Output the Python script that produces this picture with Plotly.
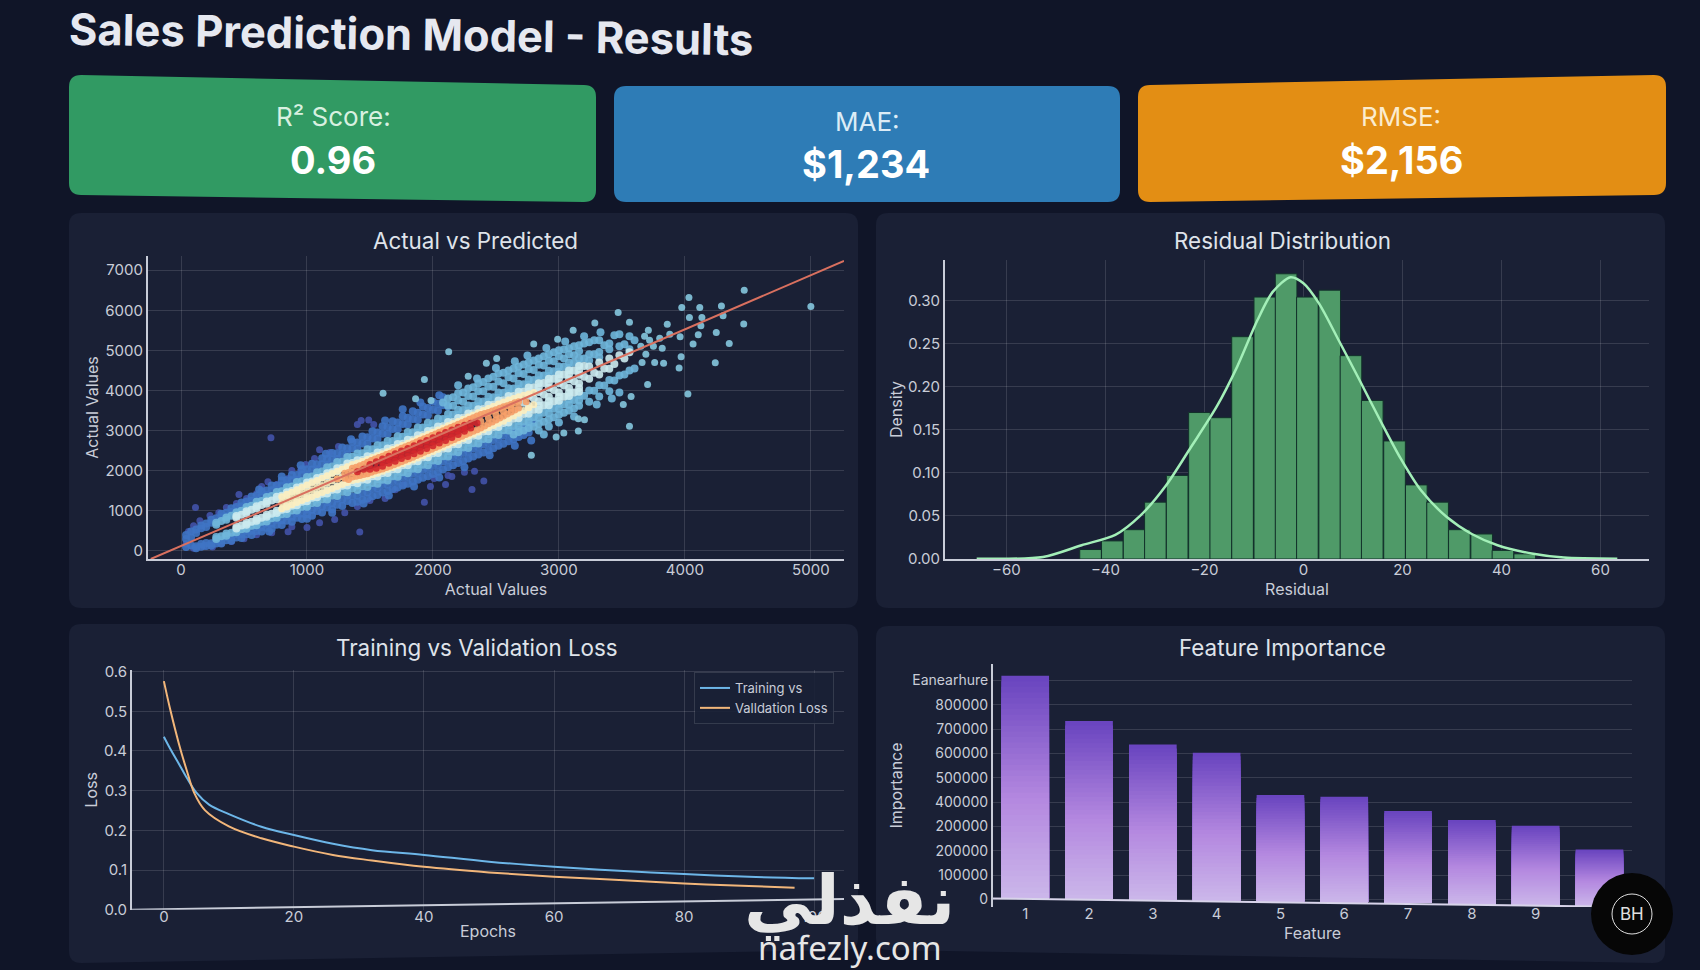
import plotly.graph_objects as go

W, H = 1700, 970

# --- scatter. Each colour band is a list of (x, [y, y, ...]) columns, outer band first
line_x = [-240, 5263]
line_y = [-207, 7231]
cols_indigo = [(40,[170]),(60,[480]),(100,[620,60]),(115,[1078]),(150,[750]),(180,[110]),(230,[880]),(250,[90]),(300,[950]),(320,[180]),
    (360,[1080]),(400,[230]),(440,[1180]),(460,[1400]),(500,[300]),(520,[1300]),(600,[1420,400]),(640,[1600]),(690,[1720]),(714,[2820]),
    (720,[450]),(760,[1650]),(850,[1800,470]),(880,[2000,600]),(950,[2000]),(990,[2150]),(1000,[580]),(1060,[2300]),(1100,[2520,700]),
    (1180,[2450]),(1220,[780]),(1250,[2600]),(1300,[950]),(1400,[3150,1100]),(1419,[464]),(1430,[3250]),(1490,[3260]),(1500,[1250]),
    (1530,[3150]),(1620,[1300]),(1700,[1520]),(1770,[1650]),(1932,[1210]),(1980,[1600]),(2010,[1800]),(2100,[1650]),(2120,[1880]),
    (2150,[1850]),(2250,[1960]),(2310,[1526]),(2330,[1980]),(2404,[1741])]
cols_blue = [(40,[390,290,90]),(120,[530,440,110,60]),(200,[680,590,190,120]),(280,[810,720,250,180]),(360,[950,860,340,260]),
    (440,[1090,1000,420,330]),(520,[1230,1130,500,410]),(600,[1370,1260,590,490]),(680,[1500,1390,680,570]),(760,[1630,1520,770,650]),
    (840,[1760,1640,860,750]),(920,[1890,1780,940,820]),(1000,[2030,1900,1030,910]),(1080,[2160,2030,1120,990]),(1160,[2290,2150,1210,1080]),
    (1240,[2430,2290,1300,1150]),(1320,[2560,2410,1380,1240]),(1400,[2700,2540,1370,1220]),(1480,[2830,2670,1460,1300]),
    (1560,[2950,2790,1560,1390]),(1640,[3080,2910,1650,1490]),(1720,[3200,3030,1750,1580]),(1800,[3320,3150,1850,1670]),
    (1880,[3440,3260,1950,1770]),(1960,[3560,3380,2040,1860]),(2040,[3670,3490,2150,1970]),(2120,[3600,2260,2080]),(2200,[2370,2190]),
    (2280,[2475,2300]),(2360,[2580,2400]),(2440,[2690,2510]),(2520,[2800,2620]),(2600,[2910,2730]),(2680,[3020,2840]),(2760,[3130,2950]),
    (80,[480,330,130]),(160,[630,560,170,100]),(240,[770,700,185,130]),(320,[920,835,260,180]),(400,[1060,970,340,250]),(480,[1205,1110,420,320]),
    (560,[1350,1245,500,395]),(640,[1485,1375,590,480]),(720,[1630,1510,670,550]),(800,[1755,1630,760,640]),(880,[1890,1760,850,720]),
    (960,[2035,1895,930,790]),(1040,[2170,2025,1020,875]),(1120,[2305,2155,1105,955]),(1200,[2440,2285,1190,1035]),(1280,[2575,2410,1280,1115]),
    (1360,[2720,2550,1360,1190]),(1440,[2850,2675,1445,1270]),(1520,[2980,2800,1540,1360]),(1600,[3105,2920,1640,1450]),(1680,[3230,3040,1725,1540]),
    (1760,[3355,3165,1820,1630]),(1840,[3480,3285,1920,1725]),(1920,[3600,3400,2015,1820]),(2000,[3720,3520,2115,1915]),(2080,[3830,3630,2225,2025]),
    (2160,[2330,2130]),(2240,[2440,2240]),(2320,[2550,2350]),(2400,[2650,2450]),(2480,[2760,2560]),(2560,[2870,2670]),(2640,[2980,2780]),(2720,[3090,2890]),(2800,[3200]),
    (1350,[2780]),(1150,[2420]),(1620,[3250]),(1760,[3530]),(1900,[3700]),(2050,[3880]),(950,[2130]),(800,[1850]),(620,[1530]),(1450,[1180]),(1650,[1380]),
    (1850,[1600]),(2050,[1830]),(2250,[2080]),(2450,[2380]),(2650,[2620]),(2780,[2750]),(1200,[950]),(1000,[800]),(700,[480])]
cols_sky = [(280,[700,650,340,290]),(360,[830,775,430,375]),(440,[960,900,520,460]),(520,[1090,1020,615,550]),(600,[1220,1150,705,635]),
    (680,[1340,1265,800,730]),(760,[1465,1390,900,820]),(840,[1585,1500,1000,915]),(920,[1715,1625,1090,1005]),(1000,[1840,1750,1185,1095]),
    (1080,[1960,1865,1285,1190]),(1160,[2085,1990,1380,1280]),(1240,[2215,2110,1470,1365]),(1320,[2340,2230,1565,1460]),
    (1400,[2425,2315,1625,1515]),(1480,[2535,2420,1710,1590]),(1560,[2630,2515,1785,1670]),(1640,[2740,2615,1870,1755]),
    (1720,[2855,2730,1970,1845]),(1800,[2965,2840,2060,1935]),(1880,[3075,2945,2165,2035]),(1960,[3195,3065,2265,2135]),
    (2040,[3300,3170,2370,2240]),(2120,[3800,3620,3410,3280,2480,2350]),(2200,[3930,3750,3517,3387,2587,2457]),
    (2280,[4050,3860,3625,3495,2695,2565]),(2360,[4170,3980,3733,3603,2803,2673]),(2440,[4300,4100,3841,3711,2911,2781]),
    (2520,[4420,4220,3949,3819,3019,2889]),(2600,[4500,4330,4057,3927,3127,2997]),(2680,[4600,4430,4165,4035,3235,3105,2960]),
    (2760,[4700,4530,4273,4143,3343,3213,3060]),(2840,[4800,4640,4381,4251,3451,3321,3170,3000]),(2920,[4900,4740,4489,4359,3559,3429,3280,3100]),
    (3000,[5000,4850,4597,4467,3667,3537,3390]),(3080,[5050,4900,4700,4560,3775,3645,3500]),(3160,[5130,4980,4800,4650,3880,3750,3620]),
    (3240,[5200,4900,4750,4000,3720]),(3320,[5250,4960,4830,4130,3850]),(3400,[5170,5030,4260,3980]),(3480,[5400,5100,4370]),(3560,[5350,5030,4500]),
    (320,[740,360]),(400,[870,450]),(480,[995,535]),(560,[1120,625]),(640,[1240,720]),(720,[1365,810]),(800,[1485,910]),(880,[1605,1005]),(960,[1735,1095]),
    (1040,[1855,1190]),(1120,[1975,1285]),(1200,[2100,1375]),(1280,[2220,1470]),(1360,[2345,1555]),(1440,[2430,1610]),(1520,[2530,1690]),(1600,[2630,1770]),
    (1680,[2740,1860]),(1760,[2845,1955]),(1840,[2955,2045]),(1920,[3075,2145]),(2000,[3180,2250]),(2080,[3290,3700,2360]),(2160,[3400,3830,3620,2470]),
    (2240,[3510,3950,3720,2575]),(2320,[3620,4080,3850,2680]),(2400,[3725,4210,3980,2790]),(2480,[3830,4340,4090,2900]),(2560,[3940,4440,4180,3005]),
    (2640,[4050,4550,4300,3115,2900]),(2720,[4155,4650,4410,3220,3000]),(2800,[4260,4750,4510,3330,3100]),(2880,[4370,4850,4620,3440,3220]),
    (2960,[4480,4950,4730,3545,3330]),(3040,[4590,5020,4800,3650,3440]),(3120,[4690,5100,4880,3760,3550]),(3200,[4800,5170,3870]),
    (3280,[4900,5250,3990]),(3360,[5130,4120]),(3440,[5380,4250]),(3520,[5150,4400]),(3600,[5250,4550]),
    (2200,[4130]),(2350,[4300]),(2500,[4560]),(2650,[4730]),(2750,[4870]),(2900,[5060]),(3050,[5220]),(3200,[5350]),(3330,[5450]),(2880,[2900]),(3000,[3200]),
    (3120,[3350]),(3300,[3650]),(3420,[3800]),(3480,[3950])]
cols_sparse = [(1604,[3930]),(1862,[3790]),(1932,[4270]),(1985,[3748]),(2125,[4967]),(2280,[4353]),(2424,[4677]),(2506,[4800]),(2781,[2380]),
    (2800,[5157]),(2978,[2836]),(2990,[5280]),(3039,[2935]),(3113,[5505]),(3154,[3292,2985]),(3203,[3267]),(3285,[5680]),(3470,[5945]),
    (3511,[3648]),(3560,[3109,5700]),(3573,[3847]),(3650,[5100]),(3660,[4700]),(3680,[5350]),(3690,[4900]),(3704,[4146]),(3710,[5500]),
    (3720,[5250]),(3750,[5100]),(3760,[4700]),(3800,[5300]),(3820,[5050]),(3831,[4677]),(3860,[5650]),(3880,[5400]),(3954,[4560]),
    (3962,[5340]),(3970,[4842]),(3975,[6070]),(4024,[3914]),(4032,[6318]),(4036,[5820]),(4065,[5158]),(4106,[5390]),(4118,[6070]),
    (4127,[5614]),(4135,[5820]),(4241,[4693]),(4249,[5448]),(4290,[6110]),(4303,[5862]),(4352,[5174]),(4467,[5655]),(4471,[6500]),(5000,[6095])]
cols_pale = [(440,[865,820,600,555]),(520,[985,935,700,650]),(600,[1110,1055,800,745]),(680,[1225,1170,900,845]),(760,[1345,1285,1000,940]),
    (840,[1460,1395,1105,1040]),(920,[1580,1515,1205,1135]),(1000,[1700,1630,1305,1235]),(1080,[1815,1745,1405,1335]),(1160,[1935,1860,1510,1430]),
    (1240,[2055,1975,1605,1525]),(1320,[2175,2090,1710,1625]),(1400,[2255,2170,1770,1685]),(1480,[2360,2270,1860,1770]),(1560,[2450,2360,1940,1850]),
    (1640,[2550,2460,2030,1940]),(1720,[2665,2570,2130,2035]),(1800,[2770,2675,2225,2130]),(1880,[2880,2780,2330,2230]),(1960,[2990,2890,2430,2330]),
    (2040,[3100,3000,2540,2440]),(2120,[3210,3110,2650,2550]),(2200,[3315,3215,2755,2655]),(2280,[3425,3325,2865,2765]),(2360,[3530,3430,2970,2870]),
    (2440,[3640,3540,3080,2980]),(2520,[3750,3650,3190,3090]),(2600,[3860,3760,3300,3200]),(2680,[3965,3865,3405,3305,3500,3750]),
    (2760,[4075,3975,3515,3415,3610,3860]),(2840,[4180,4080,3620,3520,3730,3960]),(2920,[4290,4190,3730,3630,3840,4070]),
    (3000,[4400,4300,3840,3740,3950,4180]),(3080,[4500,4400,3950,3860,4060,4280]),(3160,[4610,4500,4060,3970,4170,4390]),
    (3240,[4600,4290]),(3320,[4700,4400]),(3400,[4800,4540]),(3480,[4880]),(3560,[4950]),
    (480,[900,630]),(560,[1020,725]),(640,[1140,825]),(720,[1255,920]),(800,[1370,1025]),(880,[1490,1120]),(960,[1605,1220]),(1040,[1725,1320]),(1120,[1840,1420]),
    (1200,[1955,1520]),(1280,[2070,1620]),(1360,[2190,1710]),(1440,[2265,1775]),(1520,[2360,1860]),(1600,[2460,1940]),(1680,[2565,2035]),(1760,[2670,2130]),
    (1840,[2770,2230]),(1920,[2890,2330]),(2000,[3000,2435]),(2080,[3105,2545]),(2160,[3215,2655]),(2240,[3320,2760]),(2320,[3430,2870]),(2400,[3535,2975]),
    (2480,[3645,3085]),(2560,[3755,3190]),(2640,[3860,3300]),(2720,[3970,3410,3690]),(2800,[4075,3520,3800]),(2880,[4185,3630,3900]),(2960,[4290,3730,4010]),
    (3040,[4400,3840,4120]),(3120,[4500,3950,4230]),(3200,[4610,4340]),(3280,[4440]),(3360,[4550]),(3440,[4660]),(3520,[4800])]
cols_cream = [(800,[1345,1197,1050]),(880,[1460,1305,1150]),(960,[1580,1413,1250]),(1040,[1695,1521,1350]),(1120,[1810,1629,1450]),(1200,[1925,1737,1550]),
    (1280,[2040,1845,1650]),(1360,[2150,1950,1750]),(1440,[2230,1810]),(1520,[2325,1895]),(1600,[2420,1980]),(1680,[2525,2075]),(1760,[2630,2170]),
    (1840,[2735,2265]),(1920,[2850,2370]),(2000,[2957,2477]),(2080,[3065,2585]),(2160,[3173,2693]),(2240,[3281,2801]),(2320,[3389,2909]),(2400,[3497,3017]),
    (2480,[3605,3125]),(2560,[3713,3233]),(2640,[3800,3360]),(2720,[3880,3500]),(2800,[3950,3640]),
    (840,[1410,1251,1090]),(920,[1520,1359,1200]),(1000,[1640,1467,1300]),(1080,[1750,1575,1400]),(1160,[1870,1683,1500]),(1240,[1985,1791,1600]),(1320,[2095,1700]),
    (1400,[2190,1780]),(1480,[2275,1850]),(1560,[2370,1935]),(1640,[2470,2030]),(1720,[2575,2125]),(1800,[2680,2220]),(1880,[2795,2315]),(1960,[2905,2425]),
    (2040,[3010,2530]),(2120,[3120,2640]),(2200,[3225,2745]),(2280,[3335,2855]),(2360,[3445,2965]),(2440,[3550,3070]),(2520,[3660,3180]),(2600,[3760,3300]),
    (2680,[3840,3430]),(2760,[3910,3570])]
cols_orange = [(1240,[1791]),(1300,[1930,1810]),(1360,[2060,1840]),(1420,[2120,1880]),(1480,[2210,1920]),(1540,[2290,1990]),(1600,[2360,2040]),
    (1660,[2435,2105]),(1720,[2515,2185]),(1780,[2595,2255]),(1840,[2670,2330]),(1900,[2755,2415]),(1960,[2833,2493]),(2020,[2914,2574]),
    (2080,[2995,2655]),(2140,[3076,2736]),(2200,[3157,2817]),(2260,[3238,2898]),(2320,[3319,2979]),(2380,[3400,3230,3060]),(2440,[3450,3311,3170]),
    (2500,[3520,3392,3260]),(2560,[3590,3473,3360]),(2620,[3650,3554,3460]),(2680,[3720,3560]),(2740,[3716]),
    (1330,[1950,1780]),(1390,[2080,1860]),(1450,[2160,1900]),(1510,[2250,1955]),(1570,[2325,2015]),(1630,[2400,2075]),(1690,[2475,2145]),(1750,[2555,2220]),
    (1810,[2630,2295]),(1870,[2715,2375]),(1930,[2795,2455]),(1990,[2875,2535]),(2050,[2955,2615]),(2110,[3035,2695]),(2170,[3115,2775]),(2230,[3195,2855]),
    (2290,[3280,2940]),(2350,[3360,3020]),(2410,[3425,3115]),(2470,[3485,3215]),(2530,[3555,3310]),(2590,[3620,3410]),(2650,[3690,3510])]
cols_red = [(1400,[1970]),(1450,[2035]),(1500,[2150,2030]),(1550,[2220,2060]),(1600,[2290,2200,2110]),(1650,[2360,2270,2180]),(1700,[2420,2325,2230]),
    (1750,[2490,2395,2300]),(1800,[2550,2450,2350]),(1850,[2620,2520,2420]),(1900,[2685,2585,2485]),(1950,[2750,2650,2550]),(2000,[2817,2717,2617]),
    (2050,[2885,2785,2685]),(2100,[2950,2852,2750]),(2150,[3015,2920,2825]),(2200,[3080,2987,2900]),(2250,[3130,3055,2980]),(2300,[3180,3065]),(2350,[3190])]

# --- residuals
hist_x = [-43, -38.6, -34.2, -29.9, -25.5, -21, -16.7, -12.3, -7.8, -3.5, 0.8, 5.3, 9.6, 13.9, 18.4, 22.8, 27.1, 31.5, 36, 40.3, 44.7]
hist_y = [.011, .021, .034, .066, .097, .170, .164, .258, .304, .331, .304, .312, .236, .184, .137, .086, .066, .034, .029, .010, .006]
kde_x = [-66, -52.6, -44.8, -38, -33, -27.8, -22.7, -17.5, -13.4, -9.3, -6.2, -2.6, 0, 3.1, 7.2, 11.3, 15.5, 19.6, 23.7, 28.9, 34, 39.2, 46.4, 52.6, 63.4]
kde_y = [.0004, .0024, .016, .028, .05, .085, .13, .177, .223, .277, .31, .327, .32, .297, .253, .208, .161, .117, .08, .049, .029, .016, .006, .0016, .0004]

# --- loss curves
train_x = [0, 1, 2.3, 3.5, 5, 7, 10, 15, 20, 26, 32, 40, 50, 60, 70, 80, 90, 100]
train_y = [.436, .405, .368, .333, .295, .264, .241, .209, .188, .166, .15, .138, .121, .108, .098, .09, .083, .079]
val_x = [0, 1, 2.3, 3.5, 4.7, 6.3, 10, 15, 20, 26, 32, 40, 50, 60, 70, 80, 90, 97]
val_y = [.576, .503, .419, .352, .293, .251, .21, .18, .159, .138, .124, .108, .094, .083, .075, .066, .060, .055]
loss_base_x = [-4.9, 104.6]
loss_base_y = [0, .027]

# --- feature importance
features = [1, 2, 3, 4, 5, 6, 7, 8, 9, 10]
feature_top = [919000, 733000, 636000, 603000, 429000, 422000, 363000, 326000, 303000, 205000]
feature_base = [4000, 1400, 0, -3000, -7000, -11000, -15000, -21000, -25000, -30000]
feature_axis_x = [.495, 10.51]
feature_axis_y = [4000, -31000]
feature_ticks = [0, 100000, 200000, 300000, 400000, 500000, 600000, 700000, 800000, 900000]
feature_ticktext = ["0", "100000", "200000", "200000", "400000", "500000", "600000", "700000", "800000", "Eanearhure"]
bar_stops = [(0, "#6a45c0"), (.55, "#b488e0"), (1, "#cbb6ea")]

BG = "#101528"
PANEL = "#1a2035"
TEXT = "#c9cdd8"
FONT = "Inter"


def px(x):
    return x / W


def py(y):
    return 1 - y / H


def box_path(xl, xr, tl, tr, br, bl, r=10):
    # rounded box, left and right edges straight, top and bottom can lean
    p = [f"M {px(xl)} {py(tl + r)}",
         f"Q {px(xl)} {py(tl)} {px(xl + r)} {py(tl)}",
         f"L {px(xr - r)} {py(tr)}",
         f"Q {px(xr)} {py(tr)} {px(xr)} {py(tr + r)}",
         f"L {px(xr)} {py(br - r)}",
         f"Q {px(xr)} {py(br)} {px(xr - r)} {py(br)}",
         f"L {px(xl + r)} {py(bl)}",
         f"Q {px(xl)} {py(bl)} {px(xl)} {py(bl - r)} Z"]
    return " ".join(p)


def mix(c1, c2, t):
    a = [int(c1[i:i + 2], 16) for i in (1, 3, 5)]
    b = [int(c2[i:i + 2], 16) for i in (1, 3, 5)]
    return "rgb(%d,%d,%d)" % tuple(a[i] + (b[i] - a[i]) * t for i in range(3))


def gradient(t):
    for (t0, c0), (t1, c1) in zip(bar_stops, bar_stops[1:]):
        if t <= t1:
            return mix(c0, c1, (t - t0) / (t1 - t0))
    return bar_stops[-1][1]


def axis_style(title, domain, rng, standoff, tick_size=15, **kw):
    d = dict(domain=domain, range=rng, automargin=False,
             title=dict(text=title, font=dict(size=16, color=TEXT, family=FONT), standoff=standoff),
             tickfont=dict(size=tick_size, color=TEXT, family=FONT), showgrid=True, gridcolor="rgba(255,255,255,0.13)", gridwidth=1,
             zeroline=False, showline=True, linecolor="#c8ccd8", linewidth=2, ticks="")
    d.update(kw)
    return d


fig = go.Figure()

bands = [(cols_indigo, "#4352a8", 7), (cols_blue, "#3f74c4", 8), (cols_sky, "#6fb6da", 8), (cols_sparse, "#85c6de", 7), (cols_pale, "#cbeaee", 8),
         (cols_cream, "#fdeebf", 7), (cols_orange, "#f6a069", 7), (cols_red, "#d3272c", 7)]
for cols, color, size in bands:
    xs = [c[0] for c in cols for _ in c[1]]
    ys = [y for c in cols for y in c[1]]
    fig.add_trace(go.Scatter(x=xs, y=ys, mode="markers", xaxis="x", yaxis="y", showlegend=False,
                             marker=dict(color=color, size=size, opacity=0.9, line=dict(width=0))))
fig.add_trace(go.Scatter(x=line_x, y=line_y, mode="lines", xaxis="x", yaxis="y", showlegend=False, line=dict(color="#d9705f", width=2)))

fig.add_trace(go.Bar(x=hist_x, y=hist_y, width=4.37, xaxis="x2", yaxis="y2", showlegend=False,
                     marker=dict(color="#4f9a68", line=dict(color="#12302a", width=1))))
fig.add_trace(go.Scatter(x=kde_x, y=kde_y, mode="lines", line=dict(color="#a3efb8", width=2.5, shape="spline", smoothing=0.8),
                         xaxis="x2", yaxis="y2", showlegend=False))

fig.add_trace(go.Scatter(x=train_x, y=train_y, mode="lines", name="Training vs", line=dict(color="#6db6e8", width=2, shape="spline"),
                         xaxis="x3", yaxis="y3"))
fig.add_trace(go.Scatter(x=val_x, y=val_y, mode="lines", name="Valldation Loss", line=dict(color="#f2b67a", width=2, shape="spline"),
                         xaxis="x3", yaxis="y3"))
fig.add_trace(go.Scatter(x=loss_base_x, y=loss_base_y, mode="lines", line=dict(color="#c8ccd8", width=2), xaxis="x3", yaxis="y3",
                         showlegend=False))

# plotly bars have no gradient fill, so each bar is overdrawn from full height down with lighter and lighter colours
n_slices = 40
heights = [t - b for t, b in zip(feature_top, feature_base)]
for k in range(n_slices):
    fig.add_trace(go.Bar(x=features, y=[h * (n_slices - k) / n_slices for h in heights], base=feature_base,
                         width=0.747, xaxis="x4", yaxis="y4", showlegend=False,
                         marker=dict(color=gradient(k / (n_slices - 1)), line=dict(width=0))))
fig.add_trace(go.Scatter(x=feature_axis_x, y=feature_axis_y, mode="lines", line=dict(color="#d8d4ea", width=2), xaxis="x4", yaxis="y4",
                         showlegend=False))

fig.update_layout(
    width=W, height=H, margin=dict(l=0, r=0, t=0, b=0), paper_bgcolor=BG, plot_bgcolor="rgba(0,0,0,0)", barmode="overlay",
    font=dict(family=FONT, color=TEXT),
    xaxis=axis_style("Actual Values", [px(148), px(844)], [-262, 5263], 6, anchor="y", ticklabelstandoff=-4, tickvals=[0, 1000, 2000, 3000, 4000, 5000]),
    yaxis=axis_style("Actual Values", [py(559), py(256)], [-207, 7355], 2, anchor="x", tickvals=[0, 1000, 2000, 3000, 4000, 5000, 6000, 7000]),
    xaxis2=axis_style("Residual", [px(945), px(1649)], [-72.4, 69.8], 6, anchor="y2", ticklabelstandoff=-4, tickvals=[-60, -40, -20, 0, 20, 40, 60]),
    yaxis2=axis_style("Density", [py(559), py(260)], [0, .347], 1, anchor="x2", tickvals=[0, .05, .1, .15, .2, .25, .3], tickformat=".2f"),
    xaxis3=axis_style("Epochs", [px(132), px(844)], [-4.9, 104.6], 1, anchor="y3", ticklabelstandoff=-4, tickvals=[0, 20, 40, 60, 80, 100], showline=False),
    yaxis3=axis_style("Loss", [py(909.7), py(670)], [0, .604], 2, anchor="x3", tickvals=[0, .1, .2, .3, .4, .5, .6], tickformat=".1f"),
    xaxis4=axis_style("Feature", [px(993), px(1632)], [.495, 10.51], 1, anchor="y4", ticklabelstandoff=-4, tickvals=features, showgrid=False, showline=False),
    yaxis4=axis_style("Importance", [py(907), py(664)], [-31000, 967000], 6, tick_size=14, anchor="x4", tickvals=feature_ticks, ticktext=feature_ticktext),
    legend=dict(x=px(694), y=py(672), xanchor="left", yanchor="top", bgcolor="rgba(26,32,53,0.9)", bordercolor="rgba(255,255,255,0.12)",
                borderwidth=1, font=dict(size=13, color=TEXT, family=FONT)),
)

# panels and KPI cards
boxes = [(69, 858, 213, 213, 608, 608, PANEL, 12), (876, 1665, 213, 213, 608, 608, PANEL, 12),
         (69, 858, 624, 624, 950, 963, PANEL, 12), (876, 1665, 626, 626, 963, 950, PANEL, 12),
         (69, 596, 75, 85, 202, 195, "#319a63", 12), (614, 1120, 86, 86, 202, 202, "#2e7cb6", 12),
         (1138, 1666, 85, 75, 195, 202, "#e38e14", 12)]
for xl, xr, tl, tr, br, bl, color, r in boxes:
    fig.add_shape(type="path", path=box_path(xl, xr, tl, tr, br, bl, r), xref="paper", yref="paper", layer="below",
                  fillcolor=color, line=dict(width=0))


def label(text, x, y, size, color="#dfe3ea", bold=False, family=FONT, angle=0):
    fig.add_annotation(text=f"<b>{text}</b>" if bold else text, x=px(x), y=py(y), xref="paper", yref="paper", showarrow=False,
                       xanchor="center", yanchor="middle", textangle=angle, font=dict(size=size, color=color, family=family))


label("Sales Prediction Model - Results", 411, 34, 43.5, color="#e6e8f0", bold=True, angle=0.9)
label("R² Score:", 333, 116, 26, color="#d8f0e0")
label("0.96", 333, 160, 38, color="#ffffff", bold=True)
label("MAE:", 867, 121, 26, color="#dcecf6")
label("$1,234", 866, 164, 38, color="#ffffff", bold=True)
label("RMSE:", 1401, 116, 26, color="#fbeccf")
label("$2,156", 1401, 160, 38, color="#ffffff", bold=True)
label("Actual vs Predicted", 475, 240, 22.4)
label("Residual Distribution", 1282, 240, 22.4)
label("Training vs Validation Loss", 477, 647, 22.4)
label("Feature Importance", 1282, 647, 22.4)

# watermark and round logo on top of the charts
label("نفذلي", 849, 900, 69, color="#e6e6e6", bold=True, family="DejaVu Sans")
label("nafezly.com", 850, 947, 33, color="#e6e6e6", family="Noto Sans")
fig.add_shape(type="circle", x0=px(1591), x1=px(1673), y0=py(955), y1=py(873), xref="paper", yref="paper", layer="above",
              fillcolor="#060606", line=dict(width=0))
fig.add_shape(type="circle", x0=px(1612), x1=px(1652), y0=py(934), y1=py(894), xref="paper", yref="paper", layer="above",
              fillcolor="rgba(0,0,0,0)", line=dict(color="#e0e0e0", width=1))
label("BH", 1632, 914, 17, color="#e0e0e0")

fig.write_html("out.html", config={"displayModeBar": False},
               post_script="document.body.style.margin='0';document.body.style.overflow='hidden';document.body.style.background='#101528';")
